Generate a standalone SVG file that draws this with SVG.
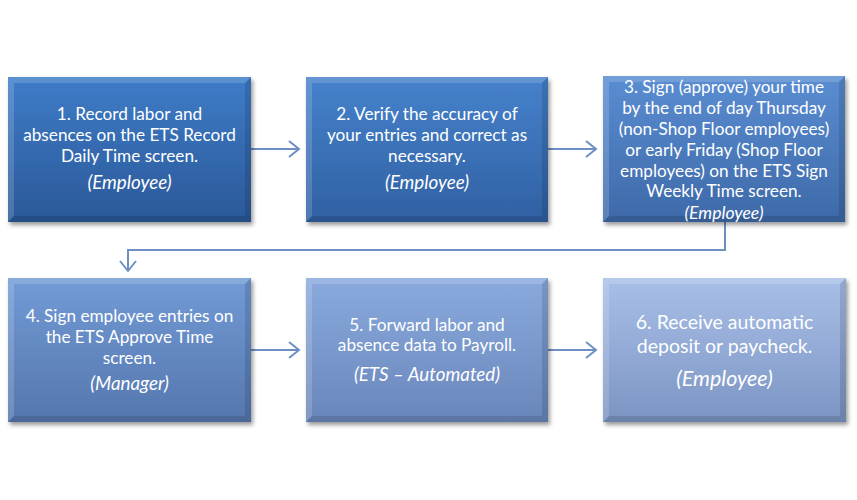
<svg xmlns="http://www.w3.org/2000/svg" width="857" height="500" viewBox="0 0 857 500">
<style>
.t{font-family:"Lato","Liberation Sans",sans-serif;font-size:17.2px;fill:#ffffff;text-anchor:middle}
.i{font-style:italic;font-size:18.8px}
.s{font-size:17.6px}
.b{font-size:19.5px}
.bi{font-size:21.5px}
.c{fill:none;stroke:#6D8FC2;stroke-width:2}
.hl{fill:#ffffff;opacity:0.16}
.sh{fill:#000000;opacity:0.12}
</style>
<defs>
<filter id="ds" x="-10%" y="-10%" width="130%" height="130%">
<feDropShadow dx="2" dy="3" stdDeviation="2" flood-color="#000" flood-opacity="0.4"/>
</filter>
<linearGradient id="g1" x1="0" y1="0" x2="0" y2="1"><stop offset="0" stop-color="#3E7CC8"/><stop offset="1" stop-color="#2B5898"/></linearGradient>
<linearGradient id="g2" x1="0" y1="0" x2="0" y2="1"><stop offset="0" stop-color="#4682CC"/><stop offset="1" stop-color="#3060A2"/></linearGradient>
<linearGradient id="g3" x1="0" y1="0" x2="0" y2="1"><stop offset="0" stop-color="#5A8DD2"/><stop offset="1" stop-color="#3D69A8"/></linearGradient>
<linearGradient id="g4" x1="0" y1="0" x2="0" y2="1"><stop offset="0" stop-color="#729BD6"/><stop offset="1" stop-color="#5576AE"/></linearGradient>
<linearGradient id="g5" x1="0" y1="0" x2="0" y2="1"><stop offset="0" stop-color="#8AAADE"/><stop offset="1" stop-color="#6986BA"/></linearGradient>
<linearGradient id="g6" x1="0" y1="0" x2="0" y2="1"><stop offset="0" stop-color="#A8C0E8"/><stop offset="1" stop-color="#7C94C2"/></linearGradient>
<marker id="ah" markerWidth="14" markerHeight="18" refX="12" refY="9" orient="auto" markerUnits="userSpaceOnUse">
<path d="M2,1 L12,9 L2,17" fill="none" stroke="#6D8FC2" stroke-width="2"/>
</marker>
</defs>

<g id="connectors">
<line class="c" x1="251" y1="149" x2="299" y2="149" marker-end="url(#ah)"/>
<line class="c" x1="548" y1="149" x2="596" y2="149" marker-end="url(#ah)"/>
<polyline class="c" points="725,222 725,250 128,250 128,271" marker-end="url(#ah)"/>
<line class="c" x1="251" y1="350" x2="299" y2="350" marker-end="url(#ah)"/>
<line class="c" x1="548" y1="350" x2="596" y2="350" marker-end="url(#ah)"/>
</g>

<g id="node1">
<rect x="8" y="77" width="243" height="145" fill="url(#g1)" filter="url(#ds)"/>
<polygon class="hl" points="8,77 251,77 245,83 14,83"/>
<polygon class="hl" points="8,77 14,83 14,216 8,222" opacity="0.08"/>
<polygon class="sh" points="251,77 251,222 245,216 245,83"/>
<polygon class="sh" points="8,222 251,222 245,216 14,216"/>
<text class="t" x="129.5" y="120">1. Record labor and</text>
<text class="t" x="129.5" y="141">absences on the ETS Record</text>
<text class="t" x="129.5" y="162">Daily Time screen.</text>
<text class="t i" x="129.5" y="189">(Employee)</text>
</g>

<g id="node2">
<rect x="306" y="77" width="242" height="145" fill="url(#g2)" filter="url(#ds)"/>
<polygon class="hl" points="306,77 548,77 542,83 312,83"/>
<polygon class="hl" points="306,77 312,83 312,216 306,222" opacity="0.08"/>
<polygon class="sh" points="548,77 548,222 542,216 542,83"/>
<polygon class="sh" points="306,222 548,222 542,216 312,216"/>
<text class="t" x="427" y="120">2. Verify the accuracy of</text>
<text class="t" x="427" y="141">your entries and correct as</text>
<text class="t" x="427" y="162">necessary.</text>
<text class="t i" x="427" y="189">(Employee)</text>
</g>

<g id="node3">
<rect x="603" y="76" width="242" height="146" fill="url(#g3)" filter="url(#ds)"/>
<polygon class="hl" points="603,76 845,76 839,82 609,82"/>
<polygon class="hl" points="603,76 609,82 609,216 603,222" opacity="0.08"/>
<polygon class="sh" points="845,76 845,222 839,216 839,82"/>
<polygon class="sh" points="603,222 845,222 839,216 609,216"/>
<text class="t" x="724" y="93">3. Sign (approve) your time</text>
<text class="t" x="724" y="114">by the end of day Thursday</text>
<text class="t" x="724" y="135">(non-Shop Floor employees)</text>
<text class="t" x="724" y="156">or early Friday (Shop Floor</text>
<text class="t" x="724" y="177">employees) on the ETS Sign</text>
<text class="t" x="724" y="197">Weekly Time screen.</text>
<text class="t i s" x="724" y="219">(Employee)</text>
</g>

<g id="node4">
<rect x="8" y="278" width="243" height="144" fill="url(#g4)" filter="url(#ds)"/>
<polygon class="hl" points="8,278 251,278 245,284 14,284"/>
<polygon class="hl" points="8,278 14,284 14,416 8,422" opacity="0.08"/>
<polygon class="sh" points="251,278 251,422 245,416 245,284"/>
<polygon class="sh" points="8,422 251,422 245,416 14,416"/>
<text class="t" x="129.5" y="322">4. Sign employee entries on</text>
<text class="t" x="129.5" y="343">the ETS Approve Time</text>
<text class="t" x="129.5" y="364">screen.</text>
<text class="t i" x="129.5" y="390">(Manager)</text>
</g>

<g id="node5">
<rect x="306" y="278" width="242" height="144" fill="url(#g5)" filter="url(#ds)"/>
<polygon class="hl" points="306,278 548,278 542,284 312,284"/>
<polygon class="hl" points="306,278 312,284 312,416 306,422" opacity="0.08"/>
<polygon class="sh" points="548,278 548,422 542,416 542,284"/>
<polygon class="sh" points="306,422 548,422 542,416 312,416"/>
<text class="t" x="427" y="331">5. Forward labor and</text>
<text class="t" x="427" y="351">absence data to Payroll.</text>
<text class="t i" x="427" y="381">(ETS – Automated)</text>
</g>

<g id="node6">
<rect x="603" y="278" width="243" height="144" fill="url(#g6)" filter="url(#ds)"/>
<polygon class="hl" points="603,278 846,278 840,284 609,284"/>
<polygon class="hl" points="603,278 609,284 609,416 603,422" opacity="0.08"/>
<polygon class="sh" points="846,278 846,422 840,416 840,284"/>
<polygon class="sh" points="603,422 846,422 840,416 609,416"/>
<text class="t b" x="724.5" y="329">6. Receive automatic</text>
<text class="t b" x="724.5" y="353">deposit or paycheck.</text>
<text class="t i bi" x="724.5" y="386">(Employee)</text>
</g>
</svg>
